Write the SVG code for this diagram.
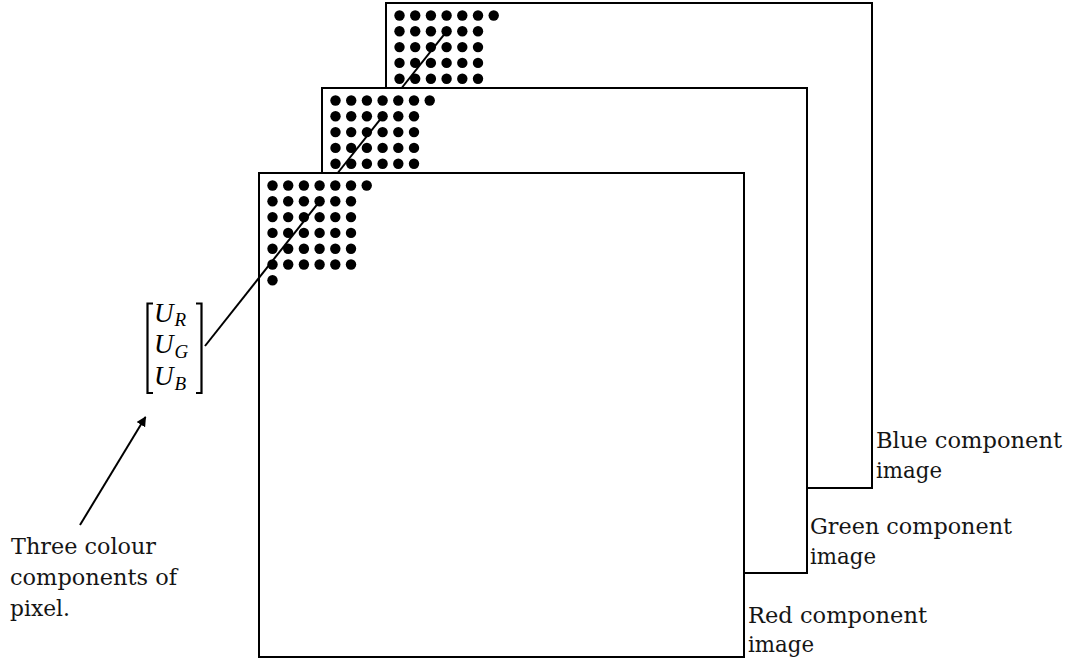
<svg xmlns="http://www.w3.org/2000/svg" width="1073" height="662" viewBox="0 0 1073 662">
  <defs>
    <style>
      .plane { fill: #ffffff; stroke: #000000; stroke-width: 2; }
      .px { fill: #000000; }
      .wire { stroke: #000000; stroke-width: 2; fill: none; }
      .label { font-family: "DejaVu Serif", "Liberation Serif", serif; font-size: 23px; fill: #151515; }
      .math { font-family: "Liberation Serif", "DejaVu Serif", serif; font-style: italic; font-size: 27px; fill: #000000; }
      .sub { font-size: 19px; }
      .bracket { stroke: #000000; stroke-width: 2.2; fill: none; }
    </style>
    <!-- one pixel dot -->
    <circle id="dot" r="5.2" class="px"/>
    <!-- first row: 7 dots, spacing 15.7 -->
    <g id="row7">
      <use href="#dot" x="0"/><use href="#dot" x="15.7"/><use href="#dot" x="31.4"/><use href="#dot" x="47.1"/>
      <use href="#dot" x="62.8"/><use href="#dot" x="78.5"/><use href="#dot" x="94.2"/>
    </g>
    <!-- following rows: 6 dots -->
    <g id="row6">
      <use href="#dot" x="0"/><use href="#dot" x="15.7"/><use href="#dot" x="31.4"/><use href="#dot" x="47.1"/>
      <use href="#dot" x="62.8"/><use href="#dot" x="78.5"/>
    </g>
    <!-- visible corner of a component plane -->
    <g id="grid5">
      <use href="#row7" y="0"/>
      <use href="#row6" y="15.8"/>
      <use href="#row6" y="31.6"/>
      <use href="#row6" y="47.4"/>
      <use href="#row6" y="63.2"/>
    </g>
    <marker id="head" viewBox="0 0 10 10" refX="9" refY="5" markerWidth="5" markerHeight="5" orient="auto" markerUnits="strokeWidth">
      <path d="M0,0 L10,5 L0,10 z" fill="#000000"/>
    </marker>
  </defs>

  <rect width="1073" height="662" fill="#ffffff"/>

  <!-- back plane -->
  <g id="blue-plane">
    <rect class="plane" x="386" y="3" width="486" height="485"/>
    <use href="#grid5" x="399.5" y="15.5"/>
  </g>

  <!-- middle plane -->
  <g id="green-plane">
    <rect class="plane" x="322" y="88" width="485" height="485"/>
    <use href="#grid5" x="335.5" y="100.5"/>
  </g>

  <!-- front plane -->
  <g id="red-plane">
    <rect class="plane" x="259" y="173" width="485" height="484"/>
    <use href="#grid5" x="272.5" y="185.5"/>
    <use href="#row6" x="272.5" y="264.5"/>
    <use href="#dot" x="272.5" y="280.3"/>
  </g>

  <!-- pixel vector -->
  <g id="pixel-vector">
    <path class="bracket" d="M153,303.5 H147.5 V393 H153"/>
    <path class="bracket" d="M196,303.5 H201.5 V393 H196"/>
    <text class="math" x="154" y="321.5">U<tspan class="sub" dx="1" dy="4.5">R</tspan></text>
    <text class="math" x="154" y="353.3">U<tspan class="sub" dx="1" dy="4.5">G</tspan></text>
    <text class="math" x="154" y="385">U<tspan class="sub" dx="1" dy="4.5">B</tspan></text>
  </g>

  <g id="connectors">
    <!-- line through the same pixel on every plane -->
    <line class="wire" x1="205" y1="346" x2="319.6" y2="201.3"/>
    <line class="wire" x1="337.7" y1="173" x2="382.6" y2="116.3"/>
    <line class="wire" x1="401.7" y1="88" x2="446.6" y2="31.3"/>
    <!-- pointer to the vector -->
    <line class="wire" x1="80" y1="525" x2="145.5" y2="417" marker-end="url(#head)"/>
  </g>

  <g id="caption-pixel">
    <text class="label" x="11" y="554" textLength="145" lengthAdjust="spacingAndGlyphs">Three colour</text>
    <text class="label" x="10" y="585" textLength="167" lengthAdjust="spacingAndGlyphs">components of</text>
    <text class="label" x="10" y="616" textLength="60" lengthAdjust="spacingAndGlyphs">pixel.</text>
  </g>

  <g id="caption-blue">
    <text class="label" x="876" y="448" textLength="186" lengthAdjust="spacingAndGlyphs">Blue component</text>
    <text class="label" x="876" y="478" textLength="66" lengthAdjust="spacingAndGlyphs">image</text>
  </g>

  <g id="caption-green">
    <text class="label" x="810" y="534" textLength="202" lengthAdjust="spacingAndGlyphs">Green component</text>
    <text class="label" x="810" y="564" textLength="66" lengthAdjust="spacingAndGlyphs">image</text>
  </g>

  <g id="caption-red">
    <text class="label" x="748" y="623" textLength="179" lengthAdjust="spacingAndGlyphs">Red component</text>
    <text class="label" x="748" y="652" textLength="66" lengthAdjust="spacingAndGlyphs">image</text>
  </g>
</svg>
